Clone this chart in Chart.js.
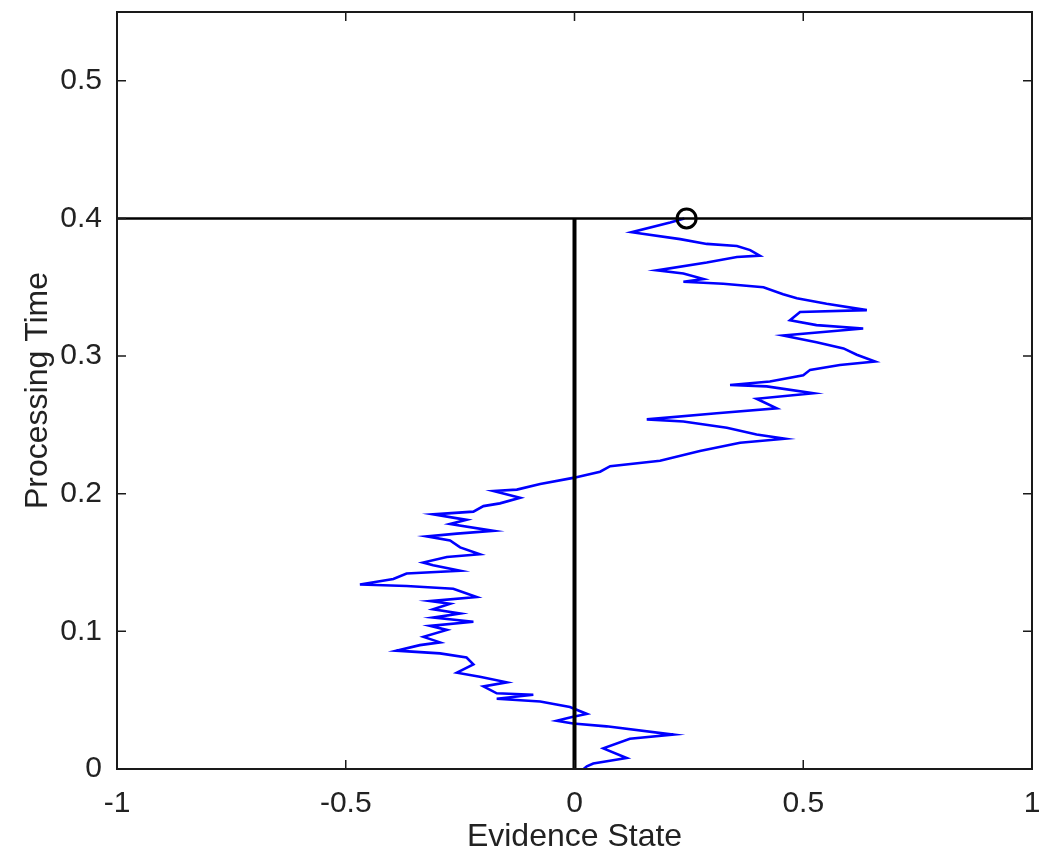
<!DOCTYPE html>
<html>
<head>
<meta charset="utf-8">
<script src="https://cdn.jsdelivr.net/npm/chart.js@4/dist/chart.umd.min.js"></script>
<style>
  html, body { margin: 0; padding: 0; background: #ffffff; }
  #wrap { width: 1039px; height: 863px; }
</style>
</head>
<body>
<div id="wrap"><canvas id="c" width="1039" height="863"></canvas></div>
<script>
// ---- Data ----
const timeValues = [
  0, 0.002, 0.004, 0.008, 0.015, 0.022, 0.025, 0.031, 0.033, 0.035,
  0.038, 0.040, 0.045, 0.049, 0.051, 0.054, 0.055, 0.060, 0.063, 0.067,
  0.070, 0.076, 0.081, 0.084, 0.086, 0.090, 0.092, 0.096, 0.101, 0.104,
  0.107, 0.110, 0.113, 0.116, 0.120, 0.122, 0.125, 0.131, 0.133, 0.134,
  0.138, 0.142, 0.144, 0.148, 0.150, 0.154, 0.156, 0.161, 0.166, 0.169,
  0.171, 0.173, 0.178, 0.181, 0.185, 0.187, 0.191, 0.193, 0.197, 0.202,
  0.203, 0.207, 0.2115, 0.216, 0.220, 0.224, 0.231, 0.237, 0.240, 0.243,
  0.248, 0.2525, 0.254, 0.2585, 0.262, 0.269, 0.273, 0.278, 0.279, 0.2815,
  0.286, 0.290, 0.2935, 0.296, 0.301, 0.3056, 0.310, 0.315, 0.320, 0.3225,
  0.326, 0.332, 0.3334, 0.338, 0.342, 0.345, 0.350, 0.3526, 0.354, 0.356,
  0.360, 0.3623, 0.368, 0.372, 0.373, 0.377, 0.380, 0.3815, 0.385, 0.390,
  0.397, 0.400
];
const evidenceValues = [
  0.020, 0.027, 0.041, 0.114, 0.063, 0.121, 0.216, 0.070, -0.003, -0.039,
  -0.003, 0.027, -0.010, -0.075, -0.170, -0.090, -0.170, -0.199, -0.148, -0.207,
  -0.257, -0.221, -0.236, -0.294, -0.389, -0.338, -0.294, -0.330, -0.279, -0.316,
  -0.221, -0.309, -0.250, -0.309, -0.272, -0.316, -0.214, -0.265, -0.367, -0.469,
  -0.396, -0.367, -0.250, -0.309, -0.331, -0.279, -0.207, -0.250, -0.272, -0.323,
  -0.257, -0.177, -0.272, -0.236, -0.309, -0.221, -0.199, -0.163, -0.119, -0.177,
  -0.126, -0.075, -0.003, 0.056, 0.078, 0.187, 0.274, 0.362, 0.460, 0.398,
  0.333, 0.238, 0.158, 0.311, 0.442, 0.398, 0.522, 0.420, 0.340, 0.427,
  0.500, 0.515, 0.580, 0.657, 0.617, 0.588, 0.529, 0.456, 0.631, 0.529,
  0.471, 0.493, 0.639, 0.551, 0.486, 0.456, 0.413, 0.325, 0.238, 0.282,
  0.238, 0.180, 0.289, 0.355, 0.405, 0.384, 0.355, 0.289, 0.231, 0.125,
  0.209, 0.240
];
const thresholdTime = [0.4, 0.4];
const thresholdEvidence = [-1, 1];
const zeroLineEvidence = [0, 0];
const zeroLineTime = [0, 0.4];
const decisionEvidence = [0.245];
const decisionTime = [0.4];

const xTickValues = [-1, -0.5, 0, 0.5, 1];
const xTickLabels = ['-1', '-0.5', '0', '0.5', '1'];
const yTickValues = [0, 0.1, 0.2, 0.3, 0.4, 0.5];
const yTickLabels = ['0', '0.1', '0.2', '0.3', '0.4', '0.5'];
const xTitle = 'Evidence State';
const yTitle = 'Processing Time';

const toPoints = (xs, ys) => xs.map((x, i) => ({ x: x, y: ys[i] }));

const FONT = '"Liberation Sans", Arial, Helvetica, sans-serif';
const TEXT = '#222222';

const framePlugin = {
  id: 'frame',
  afterDatasetsDraw(chart) {
    const { ctx, chartArea: a, scales } = chart;
    const len = 9;
    ctx.save();
    ctx.strokeStyle = '#1a1a1a';
    ctx.lineWidth = 2;
    ctx.strokeRect(a.left, a.top, a.right - a.left, a.bottom - a.top);
    ctx.lineWidth = 1.5;
    ctx.beginPath();
    xTickValues.forEach(v => {
      const px = scales.x.getPixelForValue(v);
      ctx.moveTo(px, a.bottom); ctx.lineTo(px, a.bottom - len);
      ctx.moveTo(px, a.top); ctx.lineTo(px, a.top + len);
    });
    yTickValues.forEach(v => {
      const py = scales.y.getPixelForValue(v);
      ctx.moveTo(a.left, py); ctx.lineTo(a.left + len, py);
      ctx.moveTo(a.right, py); ctx.lineTo(a.right - len, py);
    });
    ctx.stroke();
    ctx.restore();
  }
};

new Chart(document.getElementById('c'), {
  type: 'scatter',
  data: {
    datasets: [
      {
        label: 'decision',
        data: toPoints(decisionEvidence, decisionTime),
        showLine: false,
        pointRadius: 9.5,
        pointBorderWidth: 3,
        pointBorderColor: '#000000',
        pointBackgroundColor: 'rgba(0,0,0,0)',
        pointStyle: 'circle'
      },
      {
        label: 'zero',
        data: toPoints(zeroLineEvidence, zeroLineTime),
        showLine: true,
        borderColor: '#000000',
        borderWidth: 4,
        pointRadius: 0
      },
      {
        label: 'threshold',
        data: toPoints(thresholdEvidence, thresholdTime),
        showLine: true,
        borderColor: '#000000',
        borderWidth: 2.5,
        pointRadius: 0
      },
      {
        label: 'walk',
        data: toPoints(evidenceValues, timeValues),
        showLine: true,
        borderColor: '#0000ff',
        borderWidth: 2.6,
        pointRadius: 0,
        tension: 0
      }
    ]
  },
  options: {
    responsive: false,
    animation: false,
    layout: { autoPadding: false, padding: { left: 0, right: 7, top: 12, bottom: 0 } },
    plugins: { legend: { display: false }, tooltip: { enabled: false } },
    scales: {
      x: {
        type: 'linear',
        position: 'bottom',
        min: -1, max: 1,
        grid: { display: false, drawTicks: false },
        border: { display: false },
        afterBuildTicks: s => { s.ticks = xTickValues.map(v => ({ value: v })); },
        afterFit: s => { s.height = 94; s.paddingLeft = 0; s.paddingRight = 0; },
        ticks: {
          padding: 17,
          color: TEXT,
          font: { family: FONT, size: 30 },
          callback: (v, i) => xTickLabels[i]
        },
        title: {
          display: true,
          text: xTitle,
          color: TEXT,
          font: { family: FONT, size: 32 },
          padding: { top: 0, bottom: 7 }
        }
      },
      y: {
        type: 'linear',
        position: 'left',
        min: 0, max: 0.55,
        grid: { display: false, drawTicks: false },
        border: { display: false },
        afterBuildTicks: s => { s.ticks = yTickValues.map(v => ({ value: v })); },
        afterFit: s => { s.width = 117; s.paddingTop = 0; s.paddingBottom = 0; },
        ticks: {
          padding: 15,
          color: TEXT,
          font: { family: FONT, size: 30 },
          callback: (v, i) => yTickLabels[i]
        },
        title: {
          display: true,
          text: yTitle,
          color: TEXT,
          font: { family: FONT, size: 32 },
          padding: { top: 19, bottom: 0 }
        }
      }
    }
  },
  plugins: [framePlugin]
});
</script>
</body>
</html>
